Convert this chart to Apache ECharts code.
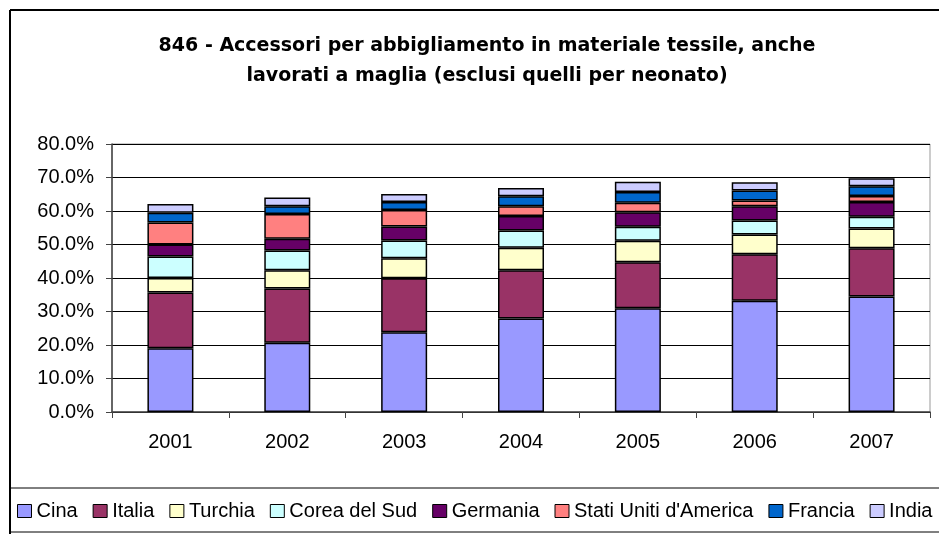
<!DOCTYPE html>
<html>
<head>
<meta charset="utf-8">
<script src="https://cdn.jsdelivr.net/npm/echarts@6/dist/echarts.min.js"></script>
<style>
  html, body { margin: 0; padding: 0; background: #fff; }
  #chart { width: 939px; height: 534px; }
</style>
</head>
<body>
<div id="chart"></div>
<script>
const years = ['2001', '2002', '2003', '2004', '2005', '2006', '2007'];
const cina     = [19.0, 20.7, 23.8, 27.9, 31.0, 33.2, 34.5];
const italia   = [16.7, 16.2, 16.1, 14.4, 13.7, 13.9, 14.4];
const turchia  = [4.3, 5.4, 6.0, 6.7, 6.4, 5.9, 5.9];
const corea    = [6.4, 5.9, 5.3, 5.2, 4.2, 4.2, 3.5];
const germania = [3.6, 3.5, 4.2, 4.3, 4.3, 4.2, 4.4];
const usa      = [6.6, 7.4, 4.9, 2.9, 2.9, 1.7, 1.8];
const francia  = [2.9, 2.3, 2.4, 3.0, 3.2, 3.0, 2.9];
const india    = [2.6, 2.6, 2.4, 2.5, 3.0, 2.5, 2.4];

const seriesDefs = [
  ['Cina', cina, '#9999FF'],
  ['Italia', italia, '#993366'],
  ['Turchia', turchia, '#FFFFCC'],
  ['Corea del Sud', corea, '#CCFFFF'],
  ['Germania', germania, '#660066'],
  ["Stati Uniti d'America", usa, '#FF8080'],
  ['Francia', francia, '#0066CC'],
  ['India', india, '#CCCCFF']
];

const font = 'Liberation Sans, Arial, sans-serif';
const chart = echarts.init(document.getElementById('chart'));

const option = {
  animation: false,
  backgroundColor: '#fff',
  title: {
    text: "846 - Accessori per abbigliamento in materiale tessile, anche\nlavorati a maglia (esclusi quelli per neonato)",
    left: 482,
    top: 26,
    textAlign: 'center',
    textStyle: {
      fontFamily: 'DejaVu Sans, sans-serif',
      fontSize: 19,
      fontWeight: 'bold',
      color: '#000',
      lineHeight: 30
    }
  },
  legend: {
    left: 17,
    top: 501,
    width: 922,
    padding: 0,
    itemWidth: 14,
    itemHeight: 13,
    itemGap: 15,
    icon: 'rect',
    textStyle: { fontFamily: font, fontSize: 20, color: '#000' },
    itemStyle: { borderColor: '#000', borderWidth: 1 },
    data: seriesDefs.map(s => s[0])
  },
  grid: {
    left: 112,
    right: 9,
    top: 144,
    bottom: 122,
    show: true,
    borderColor: '#999',
    borderWidth: 1
  },
  xAxis: {
    type: 'category',
    data: years,
    axisLine: { lineStyle: { color: '#444', width: 1.5 } },
    axisTick: { show: true, alignWithLabel: false, length: 6, lineStyle: { color: '#444' } },
    axisLabel: { fontFamily: font, fontSize: 20, color: '#000', margin: 20 }
  },
  yAxis: {
    type: 'value',
    min: 0,
    max: 80,
    interval: 10,
    axisLine: { show: true, lineStyle: { color: '#444', width: 1.5 } },
    axisTick: { show: true, length: 6, lineStyle: { color: '#444' } },
    axisLabel: {
      fontFamily: font, fontSize: 20, color: '#000', margin: 18,
      formatter: v => v.toFixed(1) + '%'
    },
    splitLine: { lineStyle: { color: '#000', width: 1 } }
  },
  graphic: [
    { type: 'line', shape: { x1: 10, y1: 10, x2: 939, y2: 10 }, style: { stroke: '#000', lineWidth: 2 } },
    { type: 'line', shape: { x1: 10, y1: 10, x2: 10, y2: 534 }, style: { stroke: '#000', lineWidth: 2 } },
    { type: 'rect', shape: { x: 10, y: 488, width: 940, height: 44 }, style: { fill: 'none', stroke: '#000', lineWidth: 1 } }
  ],
  series: seriesDefs.map(s => ({
    name: s[0],
    type: 'bar',
    stack: 'total',
    barWidth: 46,
    data: s[1],
    itemStyle: { color: s[2], borderColor: '#000', borderWidth: 1.5 }
  }))
};

chart.setOption(option);
</script>
</body>
</html>
